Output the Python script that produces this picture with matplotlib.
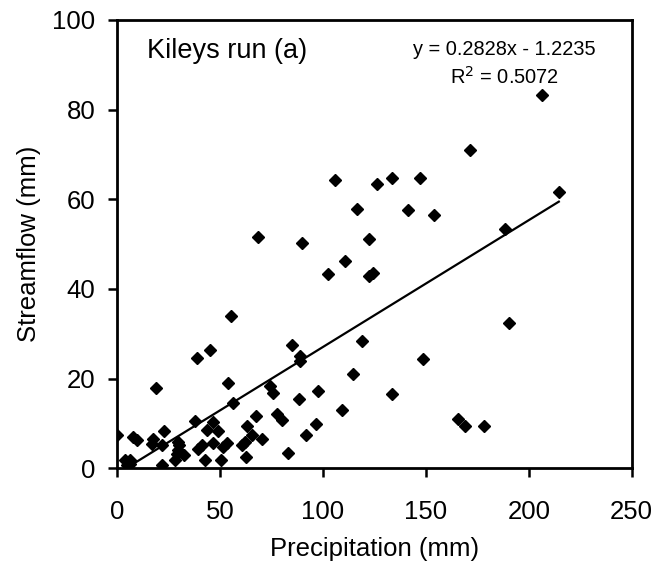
import matplotlib.pyplot as plt
import numpy as np

plt.rcParams['font.family'] = ['Liberation Sans', 'DejaVu Sans']

# precipitation (mm) and streamflow (mm)
precip = [0, 3.9, 4.7, 6.3, 6.3, 7.9, 9.6, 16.8, 17.6, 18.8, 21.7, 22.0, 23.0,
          28.2, 29.0, 29.4, 29.8, 30.2, 32.5, 37.9, 39.0, 39.5, 41.1, 42.7,
          43.8, 45.1, 46.4, 46.8, 48.9, 50.5, 51.6, 53.2, 54.0, 55.3, 56.2,
          60.5, 62.1, 62.6, 62.9, 65.7, 67.5, 68.3, 70.2, 74.3, 75.9, 77.5,
          80.2, 83.2, 85.0, 88.3, 88.8, 88.8, 89.6, 91.7, 96.6, 97.7, 102.6,
          105.8, 109.4, 110.7, 114.7, 116.7, 118.8, 122.2, 122.2, 124.4,
          126.4, 133.6, 133.6, 141.1, 147.1, 148.4, 153.9, 165.4, 168.9,
          171.4, 178.2, 188.3, 190.4, 206.5, 214.6]
flow = [7.4, 1.8, 0.7, 1.9, 0.9, 7.0, 6.3, 5.5, 6.6, 17.8, 5.1, 0.7, 8.3,
        1.9, 3.1, 4.0, 5.9, 5.1, 2.9, 10.6, 24.5, 4.4, 5.1, 1.8,
        8.5, 26.4, 10.4, 5.7, 8.3, 1.8, 4.8, 5.7, 19.1, 34.0, 14.6,
        5.1, 5.9, 2.5, 9.4, 7.4, 11.7, 51.5, 6.6, 18.3, 16.8, 12.1,
        10.7, 3.3, 27.5, 15.4, 25.1, 23.9, 50.2, 7.4, 9.8, 17.2, 43.4,
        64.2, 13.1, 46.2, 21.0, 57.9, 28.4, 51.2, 42.8, 43.5,
        63.3, 64.8, 16.6, 57.7, 64.8, 24.4, 56.4, 11.0, 9.4,
        71.0, 9.4, 53.4, 32.5, 83.2, 61.7]

slope = 0.2828
intercept = -1.2235

fig = plt.figure(figsize=(6.58, 5.69), dpi=100)
ax = fig.add_axes([0.178, 0.177, 0.782, 0.788])

ax.plot(precip, flow, linestyle='none', marker='D', ms=6, color='black')
xl = np.array([min(precip), max(precip)])
ax.plot(xl, slope * xl + intercept, color='black', linewidth=1.6)

ax.set_xlim(0, 250)
ax.set_ylim(0, 100)
ax.set_xticks([0, 50, 100, 150, 200, 250])
ax.set_yticks([0, 20, 40, 60, 80, 100])
ax.tick_params(direction='out', length=6.5, width=1.8, labelsize=18.5)
ax.tick_params(axis='x', pad=16)
ax.tick_params(axis='y', pad=9)
for s in ax.spines.values():
    s.set_linewidth(2.0)

ax.set_xlabel('Precipitation (mm)', fontsize=18.5, labelpad=10)
ax.set_ylabel('Streamflow (mm)', fontsize=18.5, labelpad=8)

ax.text(14.6, 93, 'Kileys run (a)', fontsize=19.5, va='center', ha='left')
ax.text(188.3, 93.5, 'y = 0.2828x - 1.2235', fontsize=14.4, va='center', ha='center')
ax.text(188.3, 87.2, 'R$^2$ = 0.5072', fontsize=14.4, va='center', ha='center')

fig.savefig('out.png', dpi=100)
